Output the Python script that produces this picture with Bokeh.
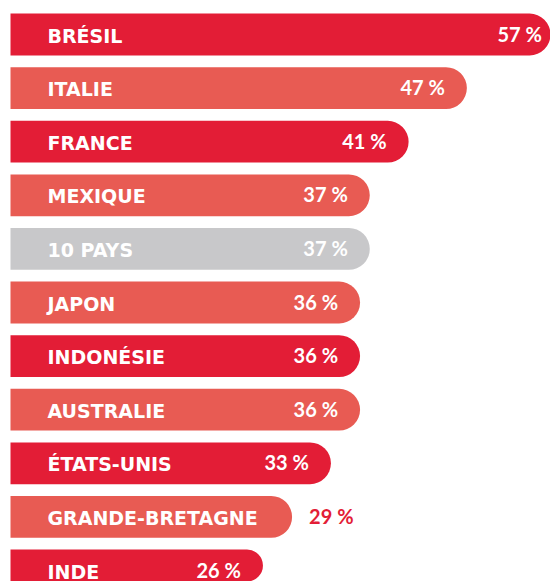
from bokeh.plotting import figure
from bokeh.models import ColumnDataSource, Range1d
from bokeh.embed import file_html
from bokeh.resources import INLINE
from bokeh.core.properties import value

categories = ["BRÉSIL", "ITALIE", "FRANCE", "MEXIQUE", "10 PAYS", "JAPON",
              "INDONÉSIE", "AUSTRALIE", "ÉTATS-UNIS", "GRANDE-BRETAGNE", "INDE"]
values = [57, 47, 41, 37, 37, 36, 36, 36, 33, 29, 26]
value_labels = ["57 %", "47 %", "41 %", "37 %", "37 %", "36 %", "36 %", "36 %", "33 %", "29 %", "26 %"]
outside_labels = ["GRANDE-BRETAGNE"]

DARK = "#E31D36"
LIGHT = "#E85B53"
GRAY = "#C8C8CA"
color_map = {"BRÉSIL": DARK, "ITALIE": LIGHT, "FRANCE": DARK, "MEXIQUE": LIGHT,
             "10 PAYS": GRAY, "JAPON": LIGHT, "INDONÉSIE": DARK, "AUSTRALIE": LIGHT,
             "ÉTATS-UNIS": DARK, "GRANDE-BRETAGNE": LIGHT, "INDE": DARK}

ys = list(range(len(categories)))
colors = [color_map[c] for c in categories]

src = ColumnDataSource(dict(y=ys, v=values, cat=categories, lab=value_labels, color=colors))
in_idx = [i for i, c in enumerate(categories) if c not in outside_labels]
out_idx = [i for i, c in enumerate(categories) if c in outside_labels]
src_in = ColumnDataSource(dict(y=[ys[i] for i in in_idx], v=[values[i] for i in in_idx],
                               lab=[value_labels[i] for i in in_idx]))
src_out = ColumnDataSource(dict(y=[ys[i] for i in out_idx], v=[values[i] for i in out_idx],
                                lab=[value_labels[i] for i in out_idx]))

W, H = 550, 581
k = 9.71          # px per percent
x0 = 10           # px of 0 %
step = 53.6       # px between bars
c0 = 34           # px of first bar centre
p = figure(width=W, height=H, output_backend="svg", toolbar_location=None,
           x_range=Range1d(-x0 / k, (W - x0) / k),
           y_range=Range1d((H - c0) / step, -c0 / step),
           min_border=0, outline_line_color=None)
p.axis.visible = False
p.grid.visible = False
p.background_fill_color = "white"
p.border_fill_color = "white"

p.hbar(y="y", left=0, right="v", height=0.78, fill_color="color", line_color=None,
       border_radius=(0, 21, 21, 0), source=src)

p.text(x=0, y="y", text="cat", x_offset=37, y_offset=1, text_align="left",
       text_baseline="middle", text_color="white", text_font=value("DejaVu Sans"),
       text_font_style="bold", text_font_size="19px", source=src)

p.text(x="v", y="y", text="lab", x_offset=-22, y_offset=-1, text_align="right",
       text_baseline="middle", text_color="white", text_font=value("Lato"),
       text_font_style="bold", text_font_size="20px", source=src_in)
p.text(x="v", y="y", text="lab", x_offset=17, y_offset=-1, text_align="left",
       text_baseline="middle", text_color=DARK, text_font=value("Lato"),
       text_font_style="bold", text_font_size="20px", source=src_out)

open("out.html", "w").write(file_html(p, INLINE))
